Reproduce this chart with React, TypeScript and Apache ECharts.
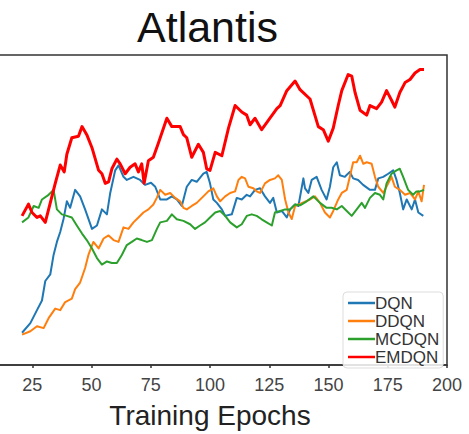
import React, { useEffect, useRef } from "react";
import * as echarts from "echarts";

const TITLE = "Atlantis";
const X_NAME = "Training Epochs";
const X_TICKS = [0, 25, 50, 75, 100, 125, 150, 175, 200];

const emdqnX = [20.7, 23.4, 24.9, 27, 28.4, 30.5, 32.6, 34.7, 36.8, 38.5, 39.6, 41.7, 44.5, 46, 48, 50.2, 53, 54.4, 55.8, 57.2, 58.6, 60.7, 62.1, 64.2, 66.3, 68.4, 69.8, 71.2, 72.2, 74, 76.1, 78.2, 81.8, 83.9, 87.4, 88.8, 90.2, 92.3, 95.1, 97.2, 98.6, 100, 102.2, 105, 107.8, 110.6, 113.4, 115.5, 116.9, 119, 121.8, 125.3, 128.2, 129.6, 132.4, 135.9, 138, 142.2, 145.7, 147.8, 149.9, 152, 154.1, 155.6, 158.3, 159.8, 161.2, 163.3, 166.1, 167.5, 170.3, 172.4, 174.5, 176.6, 178, 180.1, 182.3, 184.4, 186.5, 188.6, 190.3];
const emdqnY = [48.1, 51.9, 49.2, 47.6, 48.1, 46, 52.3, 58.6, 64.5, 62.3, 68, 73.3, 73.8, 76.9, 74.3, 70.1, 62.8, 61.7, 58.6, 59.1, 63.3, 66.4, 64.9, 61.7, 63.8, 64.9, 62.3, 64.9, 58.6, 65.9, 67, 71.5, 79.6, 76.9, 76.9, 74.3, 73.3, 67, 71.2, 68.6, 63.3, 62.8, 68.6, 67.5, 76.4, 83.7, 81.6, 80.6, 77.5, 79.6, 75.9, 79.6, 82.7, 83.7, 88.5, 91.6, 88.8, 85.8, 76.9, 75.9, 72.2, 76.4, 83.7, 88.5, 93.7, 93.2, 87.9, 82.2, 80.6, 83.7, 82.7, 84.8, 88.5, 85.4, 83.2, 87.9, 91.1, 92.1, 94.2, 95.3, 95.3];

const dqnX = [20.7, 24.2, 27, 29.1, 30.5, 32.6, 34, 35.4, 36.8, 38.2, 39.6, 41, 43.1, 45.2, 47.3, 50.2, 52.3, 54.4, 56.5, 57.9, 60, 61.4, 63.5, 64.9, 67.7, 70.5, 72.6, 75.1, 76.9, 79, 81.8, 83.9, 86, 88.1, 90.2, 92.3, 94.4, 97.2, 98.6, 100, 101.4, 102.9, 105, 106.4, 109.2, 111.3, 113.4, 115.5, 116.9, 119, 121.1, 123.2, 125.3, 126.7, 128.2, 130.3, 132.4, 133.8, 135.9, 137.3, 139.4, 140.1, 141.5, 142.9, 145, 147.1, 149.2, 150.6, 152, 153.5, 154.8, 156.9, 159, 160.4, 162.5, 164.6, 167.5, 169.6, 171, 173.1, 175.2, 177.3, 178.7, 180.1, 181.5, 183, 185.1, 186.5, 187.9, 190];
const dqnY = [10.4, 13.5, 17.7, 20.8, 27.1, 29.2, 35.5, 39.7, 42.9, 47.1, 52.8, 50.7, 56.5, 54.4, 50.2, 43.9, 45, 50.2, 48.6, 55.5, 62.8, 64.4, 60.7, 59.7, 60.7, 59.7, 58.1, 58.8, 57.5, 53.4, 53.4, 54.4, 53.4, 51.3, 57.5, 59.7, 59.1, 61.7, 62.3, 58.6, 53.4, 52.3, 50.2, 48.1, 48.6, 53.9, 53.4, 54.9, 54.4, 56.5, 57, 54.4, 52.3, 53.9, 49.2, 49.7, 47.6, 50.2, 51.8, 51.3, 60.2, 57, 55.5, 59.7, 60.7, 56.5, 53.4, 57.5, 63.8, 65.4, 61.2, 60.7, 62.3, 60.2, 59.7, 58.1, 56.5, 56.5, 60.2, 60.7, 61.7, 62.8, 59.7, 55.5, 50.2, 53.4, 50.2, 53.4, 49.2, 48.1];

const ddqnX = [20.7, 24.2, 27, 29.8, 31.9, 34.7, 36.8, 38.9, 41.7, 43.1, 45.2, 47.3, 48.7, 50.8, 53, 55.1, 57.2, 59.3, 61.4, 63.5, 65.6, 67.7, 69.8, 71.9, 74, 76.1, 77.6, 79, 81.1, 83.2, 85.3, 87.4, 88.8, 90.2, 92.3, 94.4, 97.2, 99.3, 101.4, 102.9, 104.3, 106.4, 108.5, 110.6, 112, 113.4, 114.8, 116.2, 118.3, 119.7, 121.1, 123.2, 125.3, 127.4, 128.8, 130.3, 131.7, 133.1, 134.5, 135.9, 138, 142.2, 144.3, 146.4, 148.5, 150.6, 152, 154.1, 155.6, 157.7, 159, 160.4, 161.9, 163.3, 164.7, 166.1, 168.2, 169.6, 171, 173.1, 175.2, 176.6, 178, 180.1, 182.3, 184.4, 186.5, 187.9, 189.3, 190.3];
const ddqnY = [9.8, 10.9, 12.5, 11.9, 15.1, 18.2, 17.7, 20.3, 21.4, 24.5, 26.6, 31.3, 35.5, 39.7, 37.6, 40.8, 41.8, 40.3, 39.7, 44.4, 43.9, 46, 47.6, 49.2, 50.2, 51.8, 54, 56.5, 54.9, 55.5, 53.9, 52.8, 50.7, 50.2, 51.3, 52.3, 54.4, 56, 57, 54.4, 52.8, 54.4, 55.5, 56, 59.7, 60.7, 60.2, 57.5, 57, 56, 55.5, 58.6, 59.7, 60.2, 61.2, 59.7, 53.4, 49.2, 47.1, 51.3, 52, 53.4, 54.4, 52.3, 49.2, 47.6, 49.7, 53.4, 55.5, 56.5, 60.7, 65.4, 65.4, 67.5, 64.9, 65.4, 64.9, 60.7, 57.5, 55.5, 58.6, 60.7, 57.5, 56.5, 54.9, 55.5, 53.4, 56, 52.8, 58.1];

const mcdqnX = [20.7, 23.4, 25.6, 27.7, 29.1, 31.9, 34, 35.4, 37.5, 39.6, 41.7, 43.8, 46, 48, 50.2, 52.3, 54.4, 56.5, 58.6, 60.7, 62.8, 64.9, 67, 69.1, 71.2, 73.4, 75.5, 77.6, 79, 81.8, 83.9, 86, 88.8, 91.6, 93.7, 95.8, 97.9, 100, 102.2, 104.3, 106.4, 108.5, 111.3, 113.4, 115.5, 117.6, 119.7, 121.8, 123.9, 126.1, 127.4, 129.6, 131.7, 133.8, 135.9, 138, 140.8, 143.6, 146.4, 149.2, 151.3, 153.5, 155.6, 157.7, 159.8, 161.9, 164, 165.4, 167.5, 169.6, 171.7, 173.1, 174.5, 176.6, 178.7, 180.1, 181.5, 183.6, 185.7, 187.1, 188.6, 190.3];
const mcdqnY = [46, 47.6, 51.3, 50.7, 53.4, 54.9, 56.5, 50.2, 48.6, 48.1, 47.6, 45, 42.4, 40.3, 37.6, 34.5, 32.4, 33.4, 32.9, 32.9, 35.5, 38.7, 39.7, 40.8, 40.3, 39.7, 40.3, 43.9, 46, 46.5, 48.6, 47, 46.5, 45.4, 43.9, 45, 46, 47.6, 49.2, 49.7, 48.1, 46, 44.4, 45.4, 48.1, 48.6, 48.1, 47, 46, 45, 49.2, 49.7, 50.2, 50.2, 51.8, 51.5, 52.8, 54.4, 52.3, 50.7, 50.7, 50.2, 51.3, 49.7, 48.1, 50.2, 52.3, 50.7, 53.9, 55.5, 54.9, 53.4, 58.6, 61.7, 62.8, 63.3, 60.7, 56.5, 54.9, 56, 56, 56.5];

const zip = (xs: number[], ys: number[]) => xs.map((x, i) => [x, ys[i]]);

const FONT = "'Liberation Sans', Arial, Helvetica, sans-serif";
// the reference is cropped on the left: the chart canvas starts 49px left of the page
const SHIFT = 49;

export default function App() {
  const ref = useRef<HTMLDivElement>(null);
  useEffect(() => {
    if (!ref.current) return;
    const chart = echarts.init(ref.current, null, { renderer: "svg" });
    const mk = (name: string, xs: number[], ys: number[], color: string, width: number, z: number) => ({
      name,
      type: "line",
      data: zip(xs, ys),
      showSymbol: false,
      symbol: "none",
      z,
      lineStyle: { color, width, join: "round" },
      itemStyle: { color },
    });
    chart.setOption({
      animation: false,
      title: {
        text: TITLE,
        left: 132 + SHIFT,
        top: 0,
        textStyle: { fontFamily: FONT, fontSize: 43, fontWeight: "normal", color: "#111" },
      },
      legend: {
        orient: "vertical",
        left: 343 + SHIFT,
        top: 292,
        padding: [2, 4, 2, 5],
        itemGap: 0,
        itemWidth: 27,
        itemHeight: 2.5,
        icon: "rect",
        backgroundColor: "rgba(255,255,255,0.85)",
        borderColor: "#ddd",
        borderWidth: 1,
        borderRadius: 4,
        textStyle: { fontFamily: FONT, fontSize: 17, color: "#333", lineHeight: 18, padding: [0, 0, 0, -5] },
        data: ["DQN", "DDQN", "MCDQN", "EMDQN"],
      },
      grid: {
        left: SHIFT - 27,
        right: 22,
        top: 55,
        bottom: 61,
        show: true,
        borderColor: "#333",
        borderWidth: 1.5,
        backgroundColor: "transparent",
      },
      xAxis: {
        type: "value",
        min: X_TICKS[0],
        max: X_TICKS[X_TICKS.length - 1],
        interval: 25,
        name: X_NAME,
        nameLocation: "middle",
        nameGap: 36,
        nameTextStyle: { fontFamily: FONT, fontSize: 28, color: "#222" },
        axisLine: { show: true, lineStyle: { color: "#333", width: 1.5 } },
        axisTick: { show: true, length: 3, lineStyle: { color: "#333", width: 1.5 } },
        axisLabel: {
          fontFamily: FONT,
          fontSize: 18,
          color: "#444",
          margin: 11,
          formatter: (v: number) => (v < 20 ? "" : String(v)),
        },
        splitLine: { show: false },
      },
      yAxis: {
        type: "value",
        min: 0,
        max: 100,
        show: false,
        splitLine: { show: false },
      },
      series: [
        mk("DQN", dqnX, dqnY, "#1f77b4", 2, 2),
        mk("DDQN", ddqnX, ddqnY, "#ff7f0e", 2, 3),
        mk("MCDQN", mcdqnX, mcdqnY, "#2ca02c", 2, 4),
        mk("EMDQN", emdqnX, emdqnY, "#ff0000", 3, 5),
      ],
    });
    return () => chart.dispose();
  }, []);
  return (
    <div
      ref={ref}
      style={{ width: 469 + SHIFT, height: 434, position: "absolute", left: -SHIFT, top: 0 }}
    />
  );
}
